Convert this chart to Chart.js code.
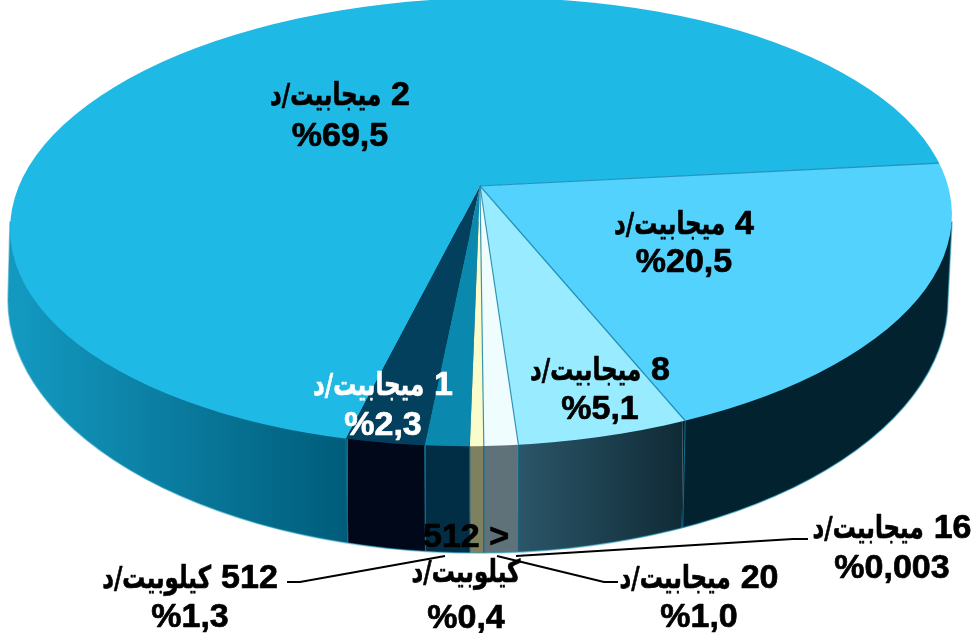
<!DOCTYPE html>
<html>
<head>
<meta charset="utf-8">
<style>
	html, body { margin: 0; padding: 0; background: #fff; }
</style>
<script src="https://cdn.jsdelivr.net/npm/chart.js@4"></script>
</head>
<body>
<canvas id="pie" width="976" height="633"></canvas>
<script>
// slices, clockwise starting from the 2 Mb/s one
const speeds = ['2 ميجابيت/د', '4 ميجابيت/د', '8 ميجابيت/د', '20 ميجابيت/د', '16 ميجابيت/د', '< 512 كيلوبيت/د', '512 كيلوبيت/د', '1 ميجابيت/د'];
const shares = [69.5, 20.5, 5.1, 1.0, 0.003, 0.4, 1.3, 2.3];
const shareLabels = ['%69,5', '%20,5', '%5,1', '%1,0', '%0,003', '%0,4', '%1,3', '%2,3'];
const topColors = ['#1fb9e6', '#52d2fd', '#99ecff', '#effdff', '#c8f0d8', '#fbfccb', '#0a88ae', '#03405e'];
const sideFrom = ['#1398c0', '#02222f', '#2b5669', '#5f7279', '#6f7a6c', '#7f8060', '#022e45', '#00081a'];
const sideTo = ['#005c7a', '#02222f', '#0f2a35', '#5f7279', '#6f7a6c', '#7f8060', '#022e45', '#00081a'];

// where the text goes: [x centre, first baseline, second baseline]
const textSpots = [
	[340, 105, 146], [684, 234, 272], [600, 380, 419], [699, 588, 627],
	[892, 538, 578], [466, 582, 628], [190, 588, 627], [383, 395, 435],
];
const leaders = [
	[[287, 582], [300, 582], [445, 556]],
	[[497, 556], [604, 582], [618, 582]],
	[[516, 556], [793, 539], [808, 539]],
];

const apex = { x: 480, y: 186 };
const squash = 0.47;
const rimTop = { x: 481, y: 222, rx: 471, ry: 224, tilt: -0.02 };
const rimBottom = { x: 478, y: 300, rx: 470, ry: 253 };
const digitFont = 'bold 34px "Liberation Sans"';
const wordFont = 'bold 31px "DejaVu Sans"';
const wordStretch = 0.74;

function insideRim(px, py) {
	const c = Math.cos(-rimTop.tilt), s = Math.sin(-rimTop.tilt);
	const dx = px - rimTop.x, dy = py - rimTop.y;
	const u = (dx * c - dy * s) / rimTop.rx, v = (dx * s + dy * c) / rimTop.ry;
	return u * u + v * v <= 1;
}

// follow a slice edge out from the apex until it leaves the top ellipse
function rimPoint(angle) {
	const dx = Math.cos(angle), dy = Math.sin(angle) * squash;
	let t = 0;
	while (t < 800 && insideRim(apex.x + dx * t, apex.y + dy * t)) t += 0.5;
	return { x: apex.x + dx * t, y: apex.y + dy * t };
}

function silhouette(ctx) {
	ctx.beginPath();
	ctx.moveTo(rimTop.x - rimTop.rx, rimTop.y);
	ctx.lineTo(rimBottom.x - rimBottom.rx, rimBottom.y);
	ctx.ellipse(rimBottom.x, rimBottom.y, rimBottom.rx, rimBottom.ry, 0, Math.PI, 0, true);
	ctx.lineTo(rimTop.x + rimTop.rx, rimTop.y);
	ctx.closePath();
}

function drawSides(chart, arcs) {
	const ctx = chart.ctx;
	const lean = (x) => apex.x + (x - apex.x) * 0.98;
	ctx.save();
	silhouette(ctx);
	ctx.clip();
	arcs.forEach((el, i) => {
		const a = rimPoint(el.startAngle), b = rimPoint(el.endAngle);
		const xR = a.y < apex.y ? chart.width : a.x;
		const xL = b.y < apex.y ? 0 : b.x;
		const g = ctx.createLinearGradient(Math.max(xL, 20), 0, Math.min(xR, 956), 0);
		g.addColorStop(0, sideFrom[i]);
		g.addColorStop(1, sideTo[i]);
		ctx.fillStyle = g;
		ctx.beginPath();
		ctx.moveTo(xL, 180);
		ctx.lineTo(xR, 180);
		ctx.lineTo(xR === chart.width ? xR : lean(xR), 600);
		ctx.lineTo(xL === 0 ? 0 : lean(xL), 600);
		ctx.closePath();
		ctx.fill();
	});
	// thin seams on the side wall
	ctx.strokeStyle = '#126f8e';
	ctx.lineWidth = 1;
	arcs.forEach((el) => {
		const a = rimPoint(el.startAngle);
		if (a.y < apex.y) return;
		ctx.beginPath();
		ctx.moveTo(a.x, a.y);
		ctx.lineTo(lean(a.x), 600);
		ctx.stroke();
	});
	ctx.restore();
	// pale fringe along the bottom edge
	silhouette(ctx);
	ctx.strokeStyle = 'rgba(40,160,195,0.55)';
	ctx.lineWidth = 1.5;
	ctx.stroke();
}

function drawTop(chart, arcs) {
	const ctx = chart.ctx;
	const grow = 1.5;
	const r = arcs[0].outerRadius;
	const sx = (rimTop.rx * grow) / r;
	ctx.save();
	ctx.beginPath();
	ctx.ellipse(rimTop.x, rimTop.y, rimTop.rx, rimTop.ry, rimTop.tilt, 0, Math.PI * 2);
	ctx.clip();
	ctx.save();
	ctx.translate(apex.x, apex.y);
	ctx.scale(sx, sx * squash);
	ctx.translate(-arcs[0].x, -arcs[0].y);
	arcs.forEach((el) => el.draw(ctx));
	ctx.restore();
	// slice edges, only the pale slices show them
	ctx.strokeStyle = 'rgba(20,130,170,0.8)';
	ctx.lineWidth = 1.2;
	[0, 1, 2, 3].forEach((i) => {
		const p = rimPoint(arcs[i].endAngle);
		ctx.beginPath();
		ctx.moveTo(apex.x, apex.y);
		ctx.lineTo(p.x, p.y);
		ctx.stroke();
	});
	ctx.restore();
}

// fill plus a hairline stroke, the original text is a bit heavier than the font
function paint(ctx, text, x, y) {
	ctx.fillText(text, x, y);
	ctx.strokeText(text, x, y);
}

// Arabic word squeezed to the width of the original, it only exists in DejaVu here
function drawWord(ctx, word, rightX, y) {
	ctx.save();
	ctx.font = wordFont;
	ctx.textAlign = 'right';
	ctx.translate(rightX, y);
	ctx.scale(wordStretch, 1);
	paint(ctx, word, 0, 0);
	ctx.restore();
}

function wordWidth(ctx, word) {
	ctx.save();
	ctx.font = wordFont;
	const w = ctx.measureText(word).width * wordStretch;
	ctx.restore();
	return w;
}

function drawSpeed(ctx, speed, cx, y) {
	const cut = speed.indexOf(' ');
	const num = speed.slice(0, cut), word = speed.slice(cut + 1);
	const gap = 10;
	const numW = ctx.measureText(num).width;
	const right = cx + (numW + gap + wordWidth(ctx, word)) / 2;
	ctx.textAlign = 'right';
	paint(ctx, num, right, y);
	drawWord(ctx, word, right - numW - gap, y);
}

function drawText(chart) {
	const ctx = chart.ctx;
	ctx.save();
	ctx.strokeStyle = '#000';
	ctx.lineWidth = 2;
	leaders.forEach((pts) => {
		ctx.beginPath();
		pts.forEach((p, i) => (i ? ctx.lineTo(p[0], p[1]) : ctx.moveTo(p[0], p[1])));
		ctx.stroke();
	});
	ctx.direction = 'rtl';
	ctx.font = digitFont;
	ctx.lineWidth = 0.7;
	ctx.lineJoin = 'round';
	speeds.forEach((speed, i) => {
		const spot = textSpots[i];
		ctx.fillStyle = i === 7 ? '#fff' : '#000';
		ctx.strokeStyle = ctx.fillStyle;
		if (i === 5) {
			// this one breaks over the side wall
			const cut = speed.lastIndexOf(' ');
			ctx.textAlign = 'center';
			paint(ctx, speed.slice(0, cut), spot[0], 547);
			drawWord(ctx, speed.slice(cut + 1), spot[0] + wordWidth(ctx, speed.slice(cut + 1)) / 2, spot[1]);
		} else {
			drawSpeed(ctx, speed, spot[0], spot[1]);
		}
		ctx.textAlign = 'center';
		paint(ctx, shareLabels[i], spot[0], spot[2]);
	});
	ctx.restore();
}

const pie3d = {
	id: 'pie3d',
	beforeDatasetsDraw(chart) {
		const arcs = chart.getDatasetMeta(0).data;
		drawSides(chart, arcs);
		drawTop(chart, arcs);
		drawText(chart);
		return false;
	},
};

new Chart(document.getElementById('pie').getContext('2d'), {
	type: 'pie',
	plugins: [pie3d],
	data: {
		labels: speeds,
		datasets: [{ data: shares, backgroundColor: topColors, borderWidth: 0 }],
	},
	options: {
		responsive: false,
		animation: false,
		rotation: -166,
		plugins: { legend: { display: false }, tooltip: { enabled: false } },
	},
});
</script>
</body>
</html>
